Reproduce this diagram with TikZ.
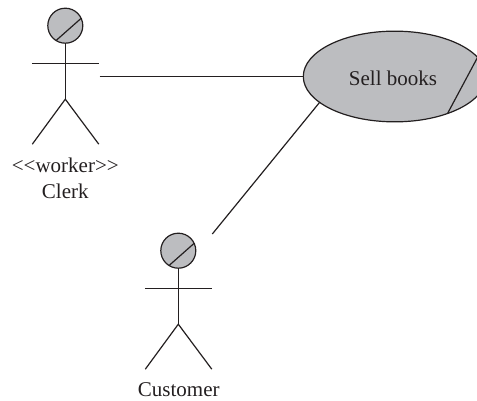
\documentclass[tikz,border=0pt]{standalone}
\usepackage{fontspec}
\setmainfont{Liberation Serif}
\usetikzlibrary{positioning, shapes.geometric}
\definecolor{ucfill}{HTML}{BCBDC0}
\definecolor{ucline}{HTML}{231F20}

\begin{document}
\begin{tikzpicture}[x=1pt, y=1pt, line width=1.2pt, draw=ucline, text=ucline,
    ucfont/.style={font=\fontsize{21}{26}\selectfont},
    uclabel/.style={ucfont, align=center, inner sep=0pt, outer sep=0pt},
    uccase/.style={draw, ellipse, fill=ucfill, minimum width=182.8pt, minimum height=90.7pt, inner sep=0pt, outer sep=0pt},
    % Pic for stick figure, origin at the head centre
    pics/actor/.style={code={
        \node[draw, circle, fill=ucfill, minimum size=35pt, inner sep=0pt, outer sep=0pt] (-head) at (0,0) {};
        \draw (-head.238) -- (-head.25);
        \coordinate (-hip) at (0,-73.5);
        \draw (-head.south) -- (-hip);
        \coordinate (-armL) at (-33.5,-37.5);
        \coordinate (-armR) at (33.5,-37.5);
        \draw (-armL) -- (-armR);
        \coordinate (-footL) at (-33,-118.5);
        \coordinate (-footR) at (33.5,-118.5);
        \draw (-footL) -- (-hip) -- (-footR);
    }}]

\useasboundingbox (0,0) rectangle (477,-401);
\clip (0,0) rectangle (477,-401);

% Actors
\pic (clerk) at (65.3,-25.7) {actor};
\pic (customer) at (178.3,-250.7) {actor};

% Labels
\node[uclabel] (clerklabel) at (65.3,-178) {<\kern0pt<worker>\kern0pt>\\Clerk};
\node[uclabel] (customerlabel) at (178.8,-390) {Customer};

% Use case, cut by the right edge
\node[uccase] (sell) at (394.7,-76.5) {};
\node[ucfont, inner sep=0pt] (selltext) at (393,-78) {Sell books};
\draw (sell.13) -- (sell.325);

% Associations
\coordinate (clerkend) at (99.5,-76.5);
\coordinate (customerend) at (212.3,-234);
\draw (clerkend) -- (sell.west);
\draw (customerend) -- (sell.199);

\end{tikzpicture}
\end{document}
